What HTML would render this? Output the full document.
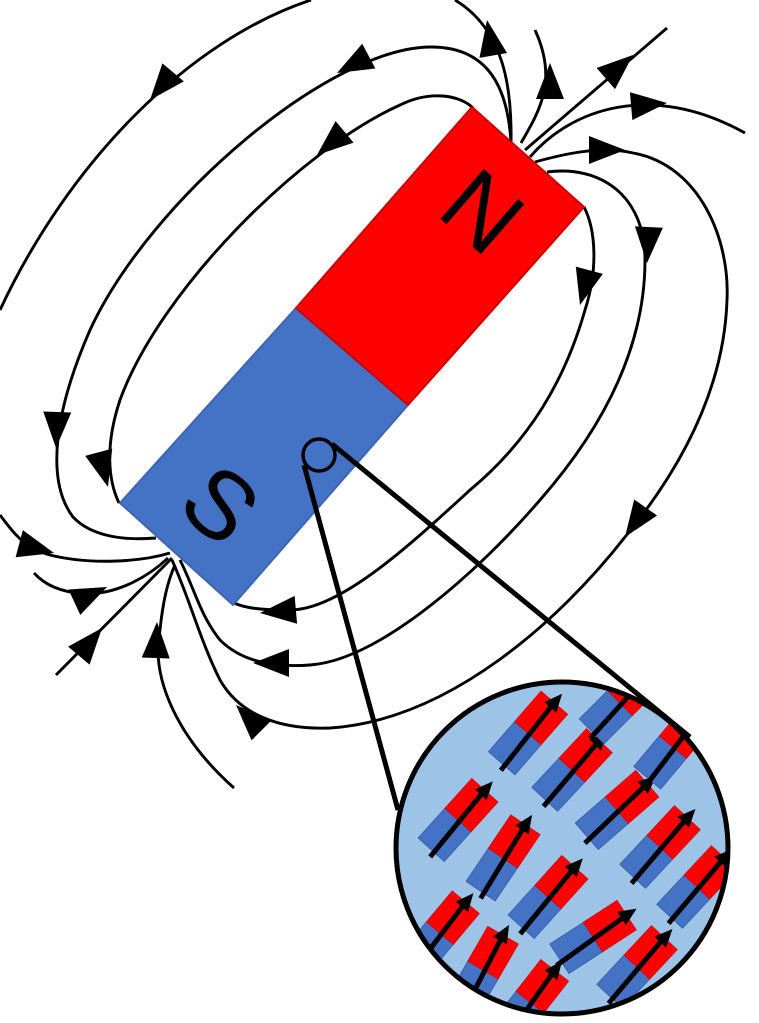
<!DOCTYPE html>
<html><head><meta charset="utf-8"><style>html,body{margin:0;padding:0;background:#fff}svg{display:block}</style></head>
<body>
<svg width="759" height="1023" viewBox="0 0 759 1023" xmlns="http://www.w3.org/2000/svg">
<defs>
<path id="ah" d="M0,0 L-36,-14 L-36,14 Z" fill="#000"/>
<clipPath id="cc"><circle cx="562" cy="848" r="166"/></clipPath>
<g id="mg">
<rect x="-40" y="-17.5" width="40" height="35" fill="#4472C4" stroke="#3a62a8" stroke-width="1"/>
<rect x="0" y="-17.5" width="40" height="35" fill="#FF0000" stroke="#d00" stroke-width="1"/>
<line x1="-46" y1="4" x2="38" y2="0" stroke="#000" stroke-width="5"/>
<path d="M52,0 L34,-8 L34,8 Z" fill="#000"/>
</g>
</defs>
<g fill="none" stroke="#000" stroke-width="2.9">
<path d="M311,0 C190,40 70,160 0,310"/>
<path d="M511,143 C512,90 505,30 455,0"/>
<path d="M511,143 C508,90 490,47 431,47 C330,47 150,200 90,330 C55,410 45,480 73,517 C90,535 120,541 156,538"/>
<path d="M473,108 C460,95 430,90 400,105 C300,150 160,290 120,400 C105,445 108,480 119,503"/>
<path d="M521,143 C540,110 558,80 535,30"/>
<path d="M525,150 L667,28"/>
<path d="M530,157 C570,110 650,80 745,133"/>
<path d="M535,162 C560,155 600,145 633,153 C700,165 730,240 727,300 C724,390 680,470 625,537 C560,620 450,720 330,728 C280,730 240,715 220,680 C200,640 190,600 172,560"/>
<path d="M547,172 C600,165 645,195 645,260 C645,340 610,420 540,500 C480,570 380,660 310,665 C270,668 240,660 220,640 C200,615 195,590 180,560"/>
<path d="M584,207 C596,230 598,270 585,310 C565,380 530,440 470,490 C410,545 340,610 290,610 C260,610 245,608 234,603"/>
<path d="M0,515 C15,535 25,548 50,555 C90,565 140,562 170,553"/>
<path d="M34,573 C45,585 60,592 85,594 C120,594 150,575 168,558"/>
<path d="M56,675 L172,558"/>
<path d="M234,788 C180,740 150,680 160,630 C163,600 168,580 175,565"/>
</g>
<use href="#ah" transform="translate(150,100) rotate(130)"/>
<use href="#ah" transform="translate(337,73) rotate(152)"/>
<use href="#ah" transform="translate(317,155) rotate(140)"/>
<use href="#ah" transform="translate(487,20) rotate(-100)"/>
<use href="#ah" transform="translate(550,63) rotate(-90)"/>
<use href="#ah" transform="translate(633,55) rotate(-41)"/>
<use href="#ah" transform="translate(667,103) rotate(-5)"/>
<use href="#ah" transform="translate(625,150) rotate(0)"/>
<use href="#ah" transform="translate(647,263) rotate(93)"/>
<use href="#ah" transform="translate(580,305) rotate(105)"/>
<use href="#ah" transform="translate(625,537) rotate(125)"/>
<use href="#ah" transform="translate(56,448) rotate(92)"/>
<use href="#ah" transform="translate(108,487) rotate(75)"/>
<use href="#ah" transform="translate(54,553) rotate(15)"/>
<use href="#ah" transform="translate(107,587) rotate(-25)"/>
<use href="#ah" transform="translate(102,628) rotate(-50)"/>
<use href="#ah" transform="translate(157,622) rotate(-88)"/>
<use href="#ah" transform="translate(236,705) rotate(-135)"/>
<use href="#ah" transform="translate(253,663) rotate(180)"/>
<use href="#ah" transform="translate(260,613) rotate(175)"/>
<polygon points="120,503 296,308 408,405 233,605" fill="#4472C4" stroke="#3d66b0" stroke-width="2"/>
<polygon points="296,308 472,107 584,207 408,405" fill="#FF0000" stroke="#cc0000" stroke-width="2"/>
<text x="482" y="212" font-family="Liberation Sans, sans-serif" font-size="96" text-anchor="middle" dominant-baseline="central" transform="rotate(41 482 212)">N</text>
<text x="220" y="505" font-family="Liberation Sans, sans-serif" font-size="96" text-anchor="middle" dominant-baseline="central" transform="rotate(41 220 505)">S</text>
<circle cx="319" cy="455" r="16" fill="none" stroke="#000" stroke-width="3.5"/>
<line x1="304" y1="465" x2="398" y2="810" stroke="#000" stroke-width="5"/>
<line x1="332" y1="444" x2="690" y2="737" stroke="#000" stroke-width="5"/>
<circle cx="562" cy="848" r="166" fill="#9DC3E6"/>
<g clip-path="url(#cc)">
<use href="#mg" transform="translate(528,733) rotate(-49)"/>
<use href="#mg" transform="translate(572,770) rotate(-47)"/>
<use href="#mg" transform="translate(458,820) rotate(-48)"/>
<use href="#mg" transform="translate(503,858) rotate(-56)"/>
<use href="#mg" transform="translate(617,810) rotate(-41)"/>
<use href="#mg" transform="translate(660,847) rotate(-47)"/>
<use href="#mg" transform="translate(548,897) rotate(-48)"/>
<use href="#mg" transform="translate(593,937) rotate(-33)"/>
<use href="#mg" transform="translate(697,887) rotate(-47)"/>
<use href="#mg" transform="translate(637,967) rotate(-47)"/>
<use href="#mg" transform="translate(440,933) rotate(-50)"/>
<use href="#mg" transform="translate(483,970) rotate(-60)"/>
<use href="#mg" transform="translate(530,1002) rotate(-52)"/>
<use href="#mg" transform="translate(620,703) rotate(-45)"/>
<use href="#mg" transform="translate(673,747) rotate(-50)"/>
</g>
<circle cx="562" cy="848" r="166" fill="none" stroke="#000" stroke-width="5"/>
</svg>
</body></html>
